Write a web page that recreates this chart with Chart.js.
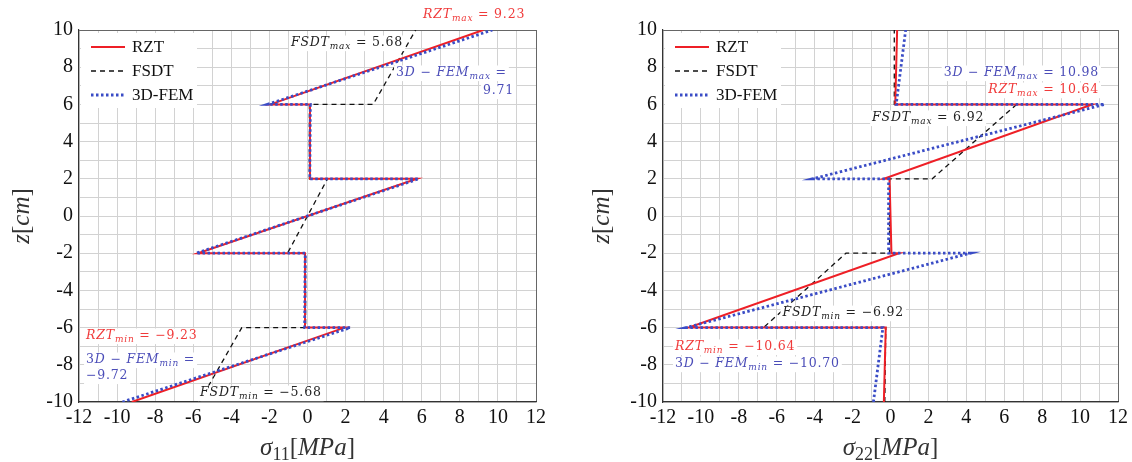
<!DOCTYPE html>
<html>
<head>
  <title>Stress through the thickness</title>
  <script src="https://cdn.jsdelivr.net/npm/chart.js"></script>
  <style>
    body { margin: 0; background: #fff; }
    #wrap { position: relative; width: 1132px; height: 462px; }
    canvas { position: absolute; top: 0; }
  </style>
</head>
<body>
<div id="wrap">
  <canvas id="left" width="566" height="462" style="left:0"></canvas>
  <canvas id="right" width="566" height="462" style="left:566px"></canvas>
</div>
<script>
// thickness coordinate z [cm], shared by every curve
var zPts = [-10, -6, -6, -2, -2, 2, 2, 6, 6, 10];

// sigma_11 [MPa]
var s11Rzt  = [-9.23, 1.95, -0.13, -0.13, -5.75, 5.75, 0.13, 0.13, -1.95, 9.23];
var s11Fsdt = [-5.68, -3.45, -0.1, -0.1, -1.05, 1.05, 0.1, 0.1, 3.45, 5.68];
var s11Fem  = [-9.72, 2.25, -0.15, -0.12, -5.85, 5.85, 0.12, 0.15, -2.1, 9.71];

// sigma_22 [MPa]
var s22Rzt  = [-0.35, -0.25, -10.64, 0.45, 0.05, -0.05, -0.35, 10.64, 0.25, 0.35];
var s22Fsdt = [-0.3, -0.25, -6.7, -2.35, -0.05, -0.05, 2.2, 6.65, 0.2, 0.2];
var s22Fem  = [-0.9, -0.4, -10.78, 4.2, -0.1, -0.1, -4.1, 11.3, 0.3, 0.8];

// labelled ticks
var xTicks = [-12, -10, -8, -6, -4, -2, 0, 2, 4, 6, 8, 10, 12];
var zTicks = [-10, -8, -6, -4, -2, 0, 2, 4, 6, 8, 10];

var seriesNames = ['RZT', 'FSDT', '3D-FEM'];

var RED = '#ee1f26', BLUE = '#3a4cc6', BLACK = '#111';
var NOTE_RED = '#f03a3a', NOTE_BLUE = '#4b4db8', NOTE_BLACK = '#222';

// math text pieces: i = italic, r = roman, s = italic subscript, n = roman subscript
function rzt(sub, val) { return [['RZT', 'i'], [sub, 's'], [' = ' + val, 'r']]; }
function fsdt(sub, val) { return [['FSDT', 'i'], [sub, 's'], [' = ' + val, 'r']]; }
function fem(sub, val) { return [['3', 'r'], ['D', 'i'], [' \u2212 ', 'r'], ['FEM', 'i'], [sub, 's'], [' =' + (val ? ' ' + val : ''), 'r']]; }

var s11Notes = [
  { parts: rzt('max', '9.23'), x: 6.07, z: 10.81, align: 'left', color: NOTE_RED },
  { parts: fsdt('max', '5.68'), x: -0.87, z: 9.3, align: 'left', color: NOTE_BLACK },
  { parts: fem('max', ''), x: 4.65, z: 7.69, align: 'left', color: NOTE_BLUE },
  { parts: [['9.71', 'r']], x: 10.85, z: 6.72, align: 'right', color: NOTE_BLUE },
  { parts: rzt('min', '\u22129.23'), x: -11.63, z: -6.45, align: 'left', color: NOTE_RED },
  { parts: fem('min', ''), x: -11.63, z: -7.74, align: 'left', color: NOTE_BLUE },
  { parts: [['\u22129.72', 'r']], x: -11.63, z: -8.6, align: 'left', color: NOTE_BLUE },
  { parts: fsdt('min', '\u22125.68'), x: -5.64, z: -9.52, align: 'left', color: NOTE_BLACK }
];

var s22Notes = [
  { parts: fem('max', '10.98'), x: 11.0, z: 7.69, align: 'right', color: NOTE_BLUE },
  { parts: rzt('max', '10.64'), x: 11.0, z: 6.77, align: 'right', color: NOTE_RED },
  { parts: fsdt('max', '6.92'), x: -0.97, z: 5.27, align: 'left', color: NOTE_BLACK },
  { parts: fsdt('min', '\u22126.92'), x: -5.7, z: -5.22, align: 'left', color: NOTE_BLACK },
  { parts: rzt('min', '\u221210.64'), x: -11.37, z: -7.04, align: 'left', color: NOTE_RED },
  { parts: fem('min', '\u221210.70'), x: -11.37, z: -7.96, align: 'left', color: NOTE_BLUE }
];

var TIMES = '"Liberation Serif", serif';
var NOTE_FONT = '"DejaVu Serif", serif';

function drawMath(ctx, parts, x, y, align, color, size, family, bg, spacing) {
  var sub = size * 0.72, w = 0;
  ctx.letterSpacing = (spacing || 0) + 'px';
  function setFont(p) {
    var small = p[1] === 's' || p[1] === 'n';
    var italic = p[1] === 'i' || p[1] === 's';
    ctx.font = (italic ? 'italic ' : '') + (small ? sub : size) + 'px ' + family;
    return small;
  }
  parts.forEach(function (p) { setFont(p); w += ctx.measureText(p[0]).width; });
  var cx = align === 'right' ? x - w : align === 'center' ? x - w / 2 : x;
  if (bg) {
    ctx.fillStyle = '#fff';
    ctx.fillRect(cx - 2, y - size * 0.6, w + 4, size * 1.25);
  }
  ctx.fillStyle = color;
  ctx.textBaseline = 'middle';
  ctx.textAlign = 'left';
  parts.forEach(function (p) {
    var small = setFont(p);
    ctx.fillText(p[0], cx, small ? y + size * 0.28 : y);
    cx += ctx.measureText(p[0]).width;
  });
  ctx.letterSpacing = '0px';
}

function makeDecor(notes, sigmaSub, zTitleX) {
  return {
    id: 'decor',
    afterDraw: function (chart) {
      var ctx = chart.ctx, a = chart.chartArea, sx = chart.scales.x, sy = chart.scales.y;
      ctx.save();
      // legend box in the upper left corner
      ctx.fillStyle = '#fff';
      ctx.fillRect(a.left + 2, a.top + 3, 116, 75);
      var styles = [
        { color: RED, width: 2, dash: [] },
        { color: BLACK, width: 1.3, dash: [5, 4] },
        { color: BLUE, width: 2.8, dash: [2.5, 2.5] }
      ];
      seriesNames.forEach(function (name, i) {
        var y = a.top + 17 + i * 24;
        ctx.strokeStyle = styles[i].color;
        ctx.lineWidth = styles[i].width;
        ctx.setLineDash(styles[i].dash);
        ctx.beginPath();
        ctx.moveTo(a.left + 12, y);
        ctx.lineTo(a.left + 46, y);
        ctx.stroke();
        ctx.setLineDash([]);
        ctx.fillStyle = '#111';
        ctx.font = '17px ' + TIMES;
        ctx.textBaseline = 'middle';
        ctx.textAlign = 'left';
        ctx.fillText(name, a.left + 53, y + 1);
      });
      // value notes
      notes.forEach(function (n) {
        drawMath(ctx, n.parts, sx.getPixelForValue(n.x), sy.getPixelForValue(n.z), n.align, n.color, 12.5, NOTE_FONT, true, 0.8);
      });
      // axis titles
      drawMath(ctx, [['\u03c3', 'i'], [sigmaSub, 'n'], ['[', 'r'], ['MPa', 'i'], [']', 'r']],
        (a.left + a.right) / 2, 448, 'center', '#333', 25, TIMES, false, 0);
      ctx.translate(zTitleX, (a.top + a.bottom) / 2);
      ctx.rotate(-Math.PI / 2);
      drawMath(ctx, [['z', 'i'], ['[', 'r'], ['cm', 'i'], [']', 'r']], 0, 0, 'center', '#333', 25, TIMES, false, 0);
      ctx.restore();
    }
  };
}

function line(label, xs, color, width, dash, order) {
  return {
    label: label,
    data: xs.map(function (v, i) { return { x: v, y: zPts[i] }; }),
    showLine: true,
    borderColor: color,
    backgroundColor: color,
    borderWidth: width,
    borderDash: dash,
    pointRadius: 0,
    tension: 0,
    order: order
  };
}

function makeChart(id, rzt, fsdt, femv, notes, sigmaSub, yWidth, padRight, zTitleX) {
  var datasets = [
    line('RZT', rzt, RED, 2, [], 1),
    line('FSDT', fsdt, BLACK, 1.3, [5, 4], 2),
    line('3D-FEM', femv, BLUE, 2.8, [2.5, 2.5], 0)
  ];
  return new Chart(document.getElementById(id), {
    type: 'scatter',
    data: { datasets: datasets },
    options: {
      responsive: false,
      animation: false,
      layout: { padding: { left: 0, top: 30, right: padRight, bottom: 0 } },
      plugins: { legend: { display: false }, tooltip: { enabled: false } },
      scales: {
        x: {
          type: 'linear', min: -12, max: 12,
          afterFit: function (s) { s.height = 60; },
          ticks: {
            stepSize: 1, autoSkip: false, maxRotation: 0, padding: 4, color: '#111',
            font: { family: TIMES, size: 20 },
            callback: function (v) { return xTicks.indexOf(v) >= 0 ? String(v) : ''; }
          },
          grid: {
            drawTicks: false,
            color: function (c) { return c.tick && c.tick.value === 12 ? '#666' : '#d2d2d2'; }
          },
          border: { color: '#333', width: 1.2 }
        },
        y: {
          type: 'linear', min: -10, max: 10,
          afterFit: function (s) { s.width = yWidth; },
          ticks: {
            stepSize: 1, autoSkip: false, padding: 6, color: '#111',
            font: { family: TIMES, size: 20 },
            callback: function (v) { return zTicks.indexOf(v) >= 0 ? String(v) : ''; }
          },
          grid: {
            drawTicks: false,
            color: function (c) { return c.tick && c.tick.value === 10 ? '#666' : '#d2d2d2'; }
          },
          border: { color: '#333', width: 1.2 }
        }
      }
    },
    plugins: [makeDecor(notes, sigmaSub, zTitleX)]
  });
}

makeChart('left', s11Rzt, s11Fsdt, s11Fem, s11Notes, '11', 79, 30, 22);
makeChart('right', s22Rzt, s22Fsdt, s22Fem, s22Notes, '22', 97, 12, 36);
</script>
</body>
</html>
